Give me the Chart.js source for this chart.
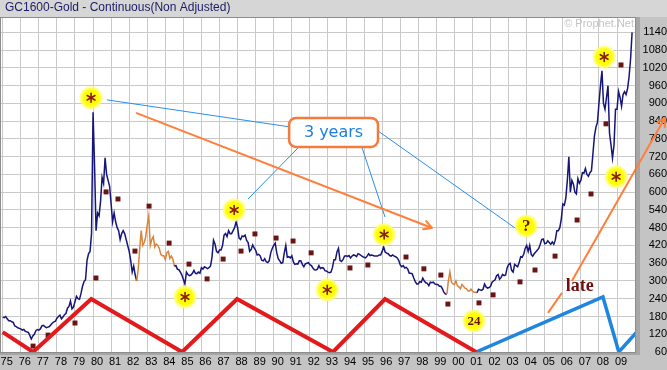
<!DOCTYPE html>
<html lang="en">
<head>
  <meta charset="UTF-8">
  <title>GC1600-Gold - Continuous(Non Adjusted)</title>
  <script src="https://cdn.jsdelivr.net/npm/chart.js"></script>
  <style>
    html, body { margin: 0; padding: 0; background: #c4c4c4; }
    canvas { display: block; }
  </style>
</head>
<body>
  <canvas id="goldChart" width="667" height="370"></canvas>

  <script>
    // monthly closes, Jan 1975 .. Nov 2009
    const startYear = 1975;
    const gold75to79 = [
      178, 176, 180, 172, 166, 166, 162, 160, 148, 146, 142, 140,
      138, 134, 136, 130, 128, 126, 116, 104, 114, 120, 132, 136,
      134, 138, 148, 150, 146, 142, 144, 146, 152, 158, 162, 164,
      174, 180, 184, 172, 178, 186, 190, 208, 214, 232, 206, 212,
      230, 248, 240, 238, 258, 282, 298, 304, 370, 392, 400, 460
    ];
    const gold80to84 = [
      870, 690, 470, 530, 520, 570, 650, 630, 716, 660, 640, 620,
      560, 500, 530, 500, 480, 470, 440, 460, 470, 460, 440, 420,
      400, 370, 330, 350, 320, 300, 340, 410, 470, 420, 430, 450,
      490, 520, 420, 440, 450, 415, 425, 420, 410, 390, 385, 385,
      372, 396, 400, 376, 384, 374, 350, 352, 340, 338, 330, 320
    ];
    const gold85to89 = [
      305, 290, 330, 322, 318, 320, 326, 336, 326, 325, 330, 326,
      345, 340, 348, 345, 342, 345, 350, 380, 438, 425, 400, 395,
      405, 405, 420, 455, 460, 450, 470, 460, 460, 470, 480, 500,
      480, 445, 440, 452, 450, 455, 437, 430, 400, 406, 422, 412,
      404, 388, 390, 385, 370, 368, 375, 365, 362, 368, 395, 410
    ];
    const gold90to94 = [
      420, 428, 395, 375, 368, 360, 362, 395, 420, 380, 382, 378,
      385, 365, 356, 358, 357, 368, 368, 356, 348, 358, 360, 362,
      355, 352, 344, 338, 337, 340, 352, 342, 345, 344, 335, 334,
      330, 328, 330, 345, 372, 372, 398, 410, 370, 366, 372, 384,
      385, 383, 386, 378, 384, 388, 386, 382, 392, 390, 386, 382
    ];
    const gold95to99 = [
      380, 378, 384, 392, 386, 388, 386, 384, 384, 384, 388, 388,
      400, 415, 398, 394, 392, 386, 384, 388, 384, 382, 378, 370,
      354, 348, 352, 344, 346, 340, 326, 326, 324, 310, 298, 290,
      290, 298, 296, 310, 300, 294, 292, 284, 296, 294, 296, 290,
      288, 288, 282, 282, 274, 262, 256, 256, 300, 330, 296, 290
    ];
    const gold00to04 = [
      288, 300, 284, 280, 274, 288, 282, 276, 274, 266, 266, 272,
      266, 262, 262, 260, 272, 270, 268, 272, 290, 280, 276, 278,
      282, 296, 300, 304, 318, 322, 306, 312, 322, 318, 320, 344,
      356, 360, 336, 330, 356, 352, 348, 362, 382, 380, 390, 410,
      420, 400, 420, 390, 384, 392, 398, 404, 410, 424, 440, 442
    ];
    const gold05to09 = [
      426, 428, 436, 430, 424, 432, 424, 438, 470, 470, 480, 510,
      560, 556, 580, 640, 720, 600, 640, 628, 600, 594, 646, 630,
      640, 666, 664, 680, 660, 654, 666, 672, 730, 790, 820, 836,
      900, 960, 1010, 900, 880, 920, 960, 800, 760, 715, 760, 880,
      880, 940, 920, 890, 930, 940, 930, 950, 990, 1050, 1140
    ];

    // stretches of the price line drawn in orange
    const orangeFrom = [1982.41, 1999.58];
    const orangeTo = [1984.5, 2001.25];

    // dark red dots
    const dotYears = [1976.68, 1977.51, 1979.0, 1980.16, 1980.72, 1981.38, 1982.32, 1983.1, 1984.21, 1985.31,
      1986.31, 1987.2, 1988.19, 1988.96, 1990.13, 1991.07, 1992.07, 1994.22, 1995.21, 1997.32,
      1998.31, 1999.25, 1999.64, 2001.36, 2002.14, 2003.63, 2004.46, 2005.57, 2006.79, 2007.56,
      2008.39, 2009.22];
    const dotValues = [80, 117, 158, 310, 601, 577, 401, 553, 428, 357,
      307, 374, 401, 459, 445, 435, 395, 344, 354, 381,
      341, 320, 222, 226, 253, 297, 337, 384, 506, 594,
      831, 1030];

    // yellow circles and what is written in them
    const circleYears = [1979.89, 1985.09, 1987.81, 1992.96, 1996.11, 2001.08, 2003.97, 2008.29, 2008.95];
    const circleValues = [919, 246, 540, 270, 457, 165, 486, 1057, 652];
    const circleMarks = ['*', '*', '*', '*', '*', '24', '?', '*', '*'];

    // cycle lines
    const redYears = [1975.0, 1976.68, 1979.9, 1984.93, 1987.97, 1993.28, 1996.16, 2001.2];
    const redValues = [127, 60, 239, 60, 239, 60, 239, 60];
    const blueYears = [2001.2, 2008.22, 2009.1, 2010.1];
    const blueValues = [60, 246, 60, 128];

    // thin blue lines from the "3 years" box
    const linkYears = [[1980.77, 1990.85], [1995.77, 2003.52], [1991.35, 1988.58], [1994.89, 1996.16]];
    const linkValues = [[912, 821], [807, 472], [750, 577], [750, 516]];

    // orange arrows
    const downArrowYears = [1982.38, 1998.76];
    const downArrowValues = [868, 479];
    const lateStubYears = [2005.18, 2005.95];
    const lateStubValues = [192, 260];
    const upArrowYears = [2006.5, 2011.65];
    const upArrowValues = [300, 851];

    const boxYears = [1990.85, 1995.77];
    const boxValues = [851, 753];
    const lateAt = [2006.94, 282];

    const yearTicks = [];
    for (let y = 1975; y <= 2009; y++) yearTicks.push(y);
    const priceTicks = [];
    for (let v = 60; v <= 1140; v += 60) priceTicks.push(v);

    const prices = [].concat(gold75to79, gold80to84, gold85to89, gold90to94, gold95to99, gold00to04, gold05to09);
    const pricePoints = prices.map((v, i) => ({ x: startYear + i / 12, y: v }));
    const pairs = (xs, ys) => xs.map((x, i) => ({ x, y: ys[i] }));
    const inOrange = x => orangeFrom.some((f, i) => x >= f && x < orangeTo[i]);

    const NAVY = '#16167a';
    const ORANGE = '#ff7f3a';

    const lineSet = (data, color, width, order, extra) => Object.assign({
      data, showLine: true, borderColor: color, borderWidth: width,
      pointRadius: 0, order, fill: false
    }, extra || {});

    const drawAsterisk = (ctx, x, y) => {
      ctx.strokeStyle = '#8a1c1c';
      ctx.lineWidth = 1.6;
      ctx.lineCap = 'round';
      [90, 30, 150].forEach(a => {
        const r = a * Math.PI / 180, dx = Math.cos(r) * 4.5, dy = Math.sin(r) * 4.5;
        ctx.beginPath();
        ctx.moveTo(x - dx, y - dy);
        ctx.lineTo(x + dx, y + dy);
        ctx.stroke();
      });
    };

    const arrowHead = (ctx, p0, p1) => {
      const ang = Math.atan2(p1.y - p0.y, p1.x - p0.x);
      ctx.beginPath();
      [-0.5, 0.5].forEach(d => {
        ctx.moveTo(p1.x, p1.y);
        ctx.lineTo(p1.x - 9 * Math.cos(ang + d), p1.y - 9 * Math.sin(ang + d));
      });
      ctx.stroke();
    };

    const decorations = {
      id: 'decorations',
      beforeDraw(chart) {
        const { ctx, chartArea: a, width, height } = chart;
        ctx.save();
        ctx.fillStyle = '#c4c4c4';
        ctx.fillRect(0, 0, width, height);
        ctx.fillStyle = '#d6d6d6';
        ctx.fillRect(0, 0, width, a.top);
        ctx.fillStyle = '#a6a6a6';
        ctx.fillRect(a.right, a.top, 4, a.bottom - a.top + 3);
        ctx.fillRect(a.left, a.bottom, a.right - a.left + 4, 3);
        ctx.fillStyle = '#ffffff';
        ctx.fillRect(a.left, a.top, a.right - a.left, a.bottom - a.top);

        ctx.fillStyle = '#1c1c66';
        ctx.font = '12px Arial';
        ctx.textBaseline = 'middle';
        ctx.textAlign = 'left';
        ctx.fillText('GC1600-Gold - Continuous(Non Adjusted)', 5, 8);

        ctx.fillStyle = '#c4c4c4';
        ctx.font = '11px Arial';
        ctx.textAlign = 'right';
        ctx.fillText('\u00a9 Prophet.Net', a.right - 2, a.top + 7);
        ctx.restore();
      },
      afterDatasetsDraw(chart) {
        const { ctx, chartArea: a } = chart;
        const xs = chart.scales.x, ys = chart.scales.y;
        ctx.save();

        ctx.strokeStyle = '#8c8c8c';
        ctx.lineWidth = 1;
        ctx.strokeRect(a.left + 0.5, a.top + 0.5, a.right - a.left - 1, a.bottom - a.top);

        // marks inside the yellow circles
        const circles = chart.getDatasetMeta(0).data;
        circles.forEach((el, i) => {
          const m = circleMarks[i];
          if (m === '*') {
            drawAsterisk(ctx, el.x, el.y);
          } else {
            ctx.fillStyle = '#6e1010';
            ctx.font = m === '?' ? 'bold 17px "Liberation Serif"' : 'bold 13px "Liberation Serif"';
            ctx.textAlign = 'center';
            ctx.textBaseline = 'middle';
            ctx.fillText(m, el.x, el.y + 1);
          }
        });

        // arrow heads
        ctx.strokeStyle = ORANGE;
        ctx.lineWidth = 2;
        [4, 6].forEach(idx => {
          const d = chart.getDatasetMeta(idx).data;
          arrowHead(ctx, d[0], d[1]);
        });

        // "3 years" box
        const x1 = xs.getPixelForValue(boxYears[0]), x2 = xs.getPixelForValue(boxYears[1]);
        const y1 = ys.getPixelForValue(boxValues[0]), y2 = ys.getPixelForValue(boxValues[1]);
        const r = 7;
        ctx.beginPath();
        ctx.moveTo(x1 + r, y1);
        ctx.arcTo(x2, y1, x2, y2, r);
        ctx.arcTo(x2, y2, x1, y2, r);
        ctx.arcTo(x1, y2, x1, y1, r);
        ctx.arcTo(x1, y1, x2, y1, r);
        ctx.closePath();
        ctx.fillStyle = '#ffffff';
        ctx.fill();
        ctx.strokeStyle = '#f57a3c';
        ctx.lineWidth = 2.5;
        ctx.stroke();
        ctx.fillStyle = '#1f7fe0';
        ctx.font = '16px "DejaVu Sans"';
        ctx.textAlign = 'center';
        ctx.textBaseline = 'middle';
        ctx.fillText('3 years', (x1 + x2) / 2, (y1 + y2) / 2);

        // "late"
        ctx.fillStyle = '#6e1010';
        ctx.font = 'bold 18px "Liberation Serif"';
        ctx.fillText('late', xs.getPixelForValue(lateAt[0]), ys.getPixelForValue(lateAt[1]));
        ctx.restore();
      }
    };

    const datasets = [
      {
        data: pairs(circleYears, circleValues), order: 1,
        pointRadius: 10, pointBackgroundColor: '#ffff00',
        pointBorderColor: 'rgba(255, 255, 110, 0.75)', pointBorderWidth: 3
      },
      lineSet(pairs(redYears, redValues), '#e3191c', 4, 2),
      lineSet(pairs(blueYears, blueValues), '#1f86e0', 3.5, 2),
      {
        data: pairs(dotYears, dotValues), order: 3,
        pointStyle: 'rect', pointRadius: 3.5, pointBackgroundColor: '#6b1414', pointBorderWidth: 0
      },
      lineSet(pairs(downArrowYears, downArrowValues), ORANGE, 2, 4),
      lineSet(pairs(lateStubYears, lateStubValues), ORANGE, 2, 4),
      lineSet(pairs(upArrowYears, upArrowValues), ORANGE, 2, 4, { clip: false })
    ];
    linkYears.forEach((ly, i) => {
      datasets.push(lineSet(pairs(ly, linkValues[i]), '#2a8ff0', 1, 5));
    });
    datasets.push(lineSet(pricePoints, NAVY, 1.5, 6, {
      segment: { borderColor: ctx => inOrange(ctx.p0.parsed.x) ? '#d8843a' : NAVY }
    }));

    new Chart(document.getElementById('goldChart').getContext('2d'), {
      type: 'scatter',
      data: { datasets },
      options: {
        responsive: false,
        animation: false,
        devicePixelRatio: 1,
        events: [],
        layout: { autoPadding: false, padding: { top: 17, left: 0, right: 0, bottom: 0 } },
        plugins: { legend: { display: false }, tooltip: { enabled: false } },
        scales: {
          x: {
            type: 'linear', position: 'bottom', min: 1974.85, max: 2010.05,
            afterBuildTicks: s => { s.ticks = yearTicks.map(v => ({ value: v })); },
            afterFit: s => { s.height = 18; s.paddingLeft = 0; s.paddingRight = 0; },
            grid: { color: '#c9c9c9', drawTicks: false },
            border: { display: false },
            ticks: {
              autoSkip: false, maxRotation: 0, padding: 3, labelOffset: 4, color: '#000',
              font: { family: 'Arial', size: 11 },
              callback: v => String(v % 100).padStart(2, '0')
            }
          },
          y: {
            type: 'linear', position: 'right', min: 60, max: 1192,
            afterBuildTicks: s => { s.ticks = priceTicks.map(v => ({ value: v })); },
            afterFit: s => { s.width = 31; s.paddingTop = 0; s.paddingBottom = 0; },
            grid: { color: '#c9c9c9', drawTicks: false },
            border: { display: false },
            ticks: {
              crossAlign: 'far', padding: 4, color: '#000',
              font: { family: 'Arial', size: 11 },
              callback: v => String(v)
            }
          }
        }
      },
      plugins: [decorations]
    });
  </script>
</body>
</html>
